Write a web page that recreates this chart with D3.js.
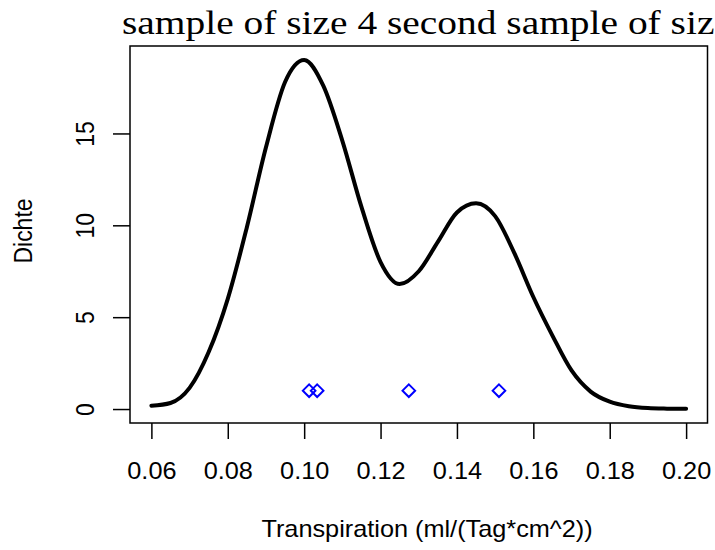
<!DOCTYPE html>
<html>
<head>
<meta charset="utf-8">
<script src="https://cdn.jsdelivr.net/npm/d3@7"></script>
<style>
  body { margin: 0; background: #fff; }
  svg { display: block; }
  .tick text { font-family: "Liberation Sans", Arial, sans-serif; }
</style>
</head>
<body>
<div id="chart"></div>
<script>
// density curve
const densX = [0.060, 0.065, 0.070, 0.075, 0.080, 0.085, 0.090, 0.095, 0.100, 0.105,
               0.110, 0.115, 0.120, 0.125, 0.130, 0.135, 0.140, 0.145, 0.150, 0.155,
               0.160, 0.165, 0.170, 0.175, 0.180, 0.185, 0.190, 0.195, 0.200];
const densY = [0.18, 0.33, 1.15, 3.1, 6.0, 9.9, 14.25, 17.8, 19.0, 17.6,
               14.6, 11.0, 8.0, 6.8, 7.5, 9.1, 10.7, 11.2, 10.5, 8.5,
               6.1, 4.0, 2.1, 0.95, 0.4, 0.15, 0.05, 0.02, 0.01];
// sample points (rug at y = 1)
const sampleX = [0.1013, 0.1034, 0.1274, 0.1510];
const sampleY = [1, 1, 1, 1];

const xTicks = [0.06, 0.08, 0.10, 0.12, 0.14, 0.16, 0.18, 0.20];
const yTicks = [0, 5, 10, 15];

// the original title runs past the right edge, as in the reference
const titleText = "sample of size 4 second sample of size 4";
const xLabel = "Transpiration (ml/(Tag*cm^2))";
const yLabel = "Dichte";

const width = 715, height = 550;
const box = { left: 130, right: 707.5, top: 46, bottom: 423 };
const fs = 23;       // label font size
const stretch = 1.1; // the picture is a bit wider than tall

const svg = d3.select("#chart")
    .append("svg")
    .attr("width", width)
    .attr("height", height);

// R style: 4% padding on both ends
const x = d3.scaleLinear().domain([0.0544, 0.2056]).range([box.left, box.right]);
const y = d3.scaleLinear().domain([-0.76, 19.76]).range([box.bottom, box.top]);

// axes, shifted off the box like base R
const xAxis = d3.axisBottom(x)
    .tickValues(xTicks)
    .tickSize(16)
    .tickPadding(24)
    .tickFormat(d3.format(".2f"));

const gx = svg.append("g")
    .attr("transform", "translate(0," + box.bottom + ")")
    .call(xAxis);
gx.select(".domain").remove();
gx.selectAll("line").attr("stroke", "#000").attr("stroke-width", 1.5);
gx.selectAll("text")
    .attr("font-size", fs)
    .attr("fill", "#000")
    .attr("transform", "scale(" + stretch + ",1)");

const yAxis = d3.axisLeft(y)
    .tickValues(yTicks)
    .tickSize(17)
    .tickFormat(d3.format("d"));

const gy = svg.append("g")
    .attr("transform", "translate(" + box.left + ",0)")
    .call(yAxis);
gy.select(".domain").remove();
gy.selectAll("line").attr("stroke", "#000").attr("stroke-width", 1.5);
gy.selectAll("text")
    .attr("font-size", fs)
    .attr("fill", "#000")
    .attr("x", 0)
    .attr("y", 0)
    .attr("text-anchor", "middle")
    .attr("dy", "0.36em")
    .attr("transform", "translate(-45,0) scale(" + stretch + ",1) rotate(-90)");

// plot box
svg.append("rect")
    .attr("x", box.left)
    .attr("y", box.top)
    .attr("width", box.right - box.left)
    .attr("height", box.bottom - box.top)
    .attr("fill", "none")
    .attr("stroke", "#000")
    .attr("stroke-width", 1.5);

// density line
const line = d3.line()
    .x(function(d, i) { return x(densX[i]); })
    .y(function(d) { return y(d); })
    .curve(d3.curveMonotoneX);

svg.append("path")
    .datum(densY)
    .attr("d", line)
    .attr("fill", "none")
    .attr("stroke", "#000")
    .attr("stroke-width", 4)
    .attr("stroke-linejoin", "round")
    .attr("stroke-linecap", "round");

// blue diamonds
svg.selectAll(".pt")
    .data(sampleX)
    .enter()
    .append("path")
    .attr("class", "pt")
    .attr("transform", function(d, i) { return "translate(" + x(d) + "," + y(sampleY[i]) + ")"; })
    .attr("d", "M0,-6.3L6.3,0L0,6.3L-6.3,0Z")
    .attr("fill", "none")
    .attr("stroke", "#0000ff")
    .attr("stroke-width", 2);

// labels
svg.append("text")
    .attr("transform", "translate(427,537) scale(" + stretch + ",1)")
    .attr("text-anchor", "middle")
    .attr("font-family", "Liberation Sans, Arial, sans-serif")
    .attr("font-size", fs)
    .text(xLabel);

svg.append("text")
    .attr("transform", "translate(32,231) scale(" + stretch + ",1) rotate(-90)")
    .attr("text-anchor", "middle")
    .attr("font-family", "Liberation Sans, Arial, sans-serif")
    .attr("font-size", fs)
    .text(yLabel);

svg.append("text")
    .attr("transform", "translate(122,34) scale(1.16,1)")
    .attr("font-family", "Liberation Serif, serif")
    .attr("font-size", 34)
    .text(titleText);
</script>
</body>
</html>
